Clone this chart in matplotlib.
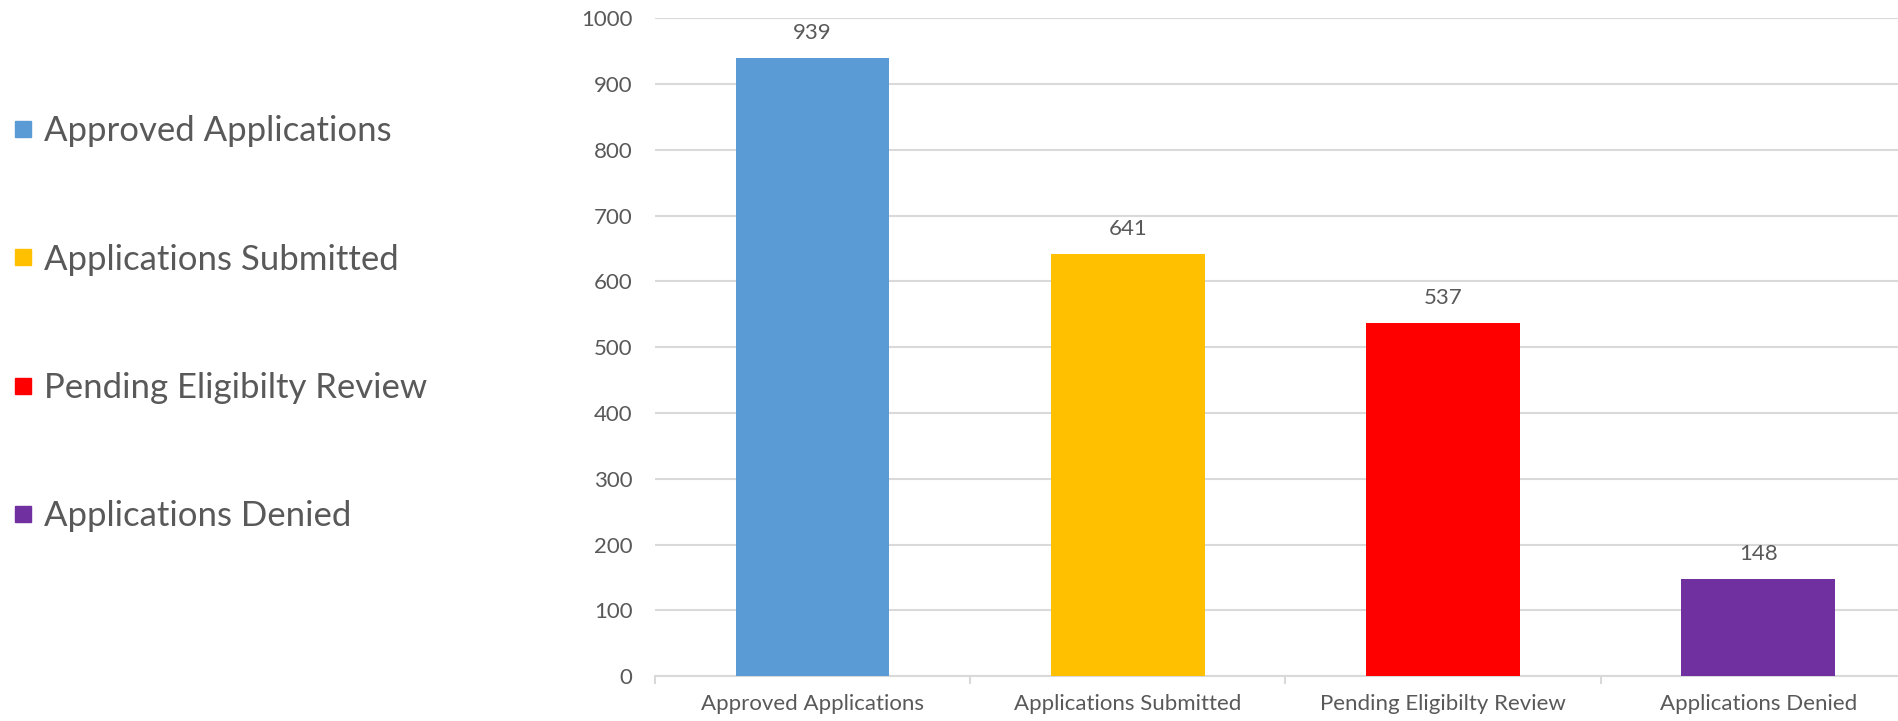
import matplotlib.pyplot as plt
from matplotlib.lines import Line2D
import numpy as np

# Application status counts
categories = ["Approved Applications", "Applications Submitted",
              "Pending Eligibilty Review", "Applications Denied"]
counts = [939, 641, 537, 148]
colors = ["#5B9BD5", "#FFC000", "#FF0000", "#7030A0"]
yticks = [0, 100, 200, 300, 400, 500, 600, 700, 800, 900, 1000]

plt.rcParams['font.family'] = ['Lato', 'DejaVu Sans']
text_color = "#595959"
grid_color = "#D9D9D9"

fig = plt.figure(figsize=(18.98, 7.21), dpi=100)
# plot area runs slightly past the right edge of the image, as in the original
ax = fig.add_axes([0.345, 0.062, 0.6645, 0.913])

x = np.arange(len(categories))
bars = ax.bar(x, counts, width=0.488, color=colors, zorder=3)

# value labels above bars
for b, v in zip(bars, counts):
    ax.annotate(str(v), (b.get_x() + b.get_width() / 2, v),
                xytext=(0, 11), textcoords="offset points",
                ha="center", va="bottom", fontsize=16, color=text_color)

ax.set_xlim(-0.5, len(categories) - 0.5)
ax.set_ylim(0, 1000)
ax.set_yticks(yticks)
ax.yaxis.grid(True, color=grid_color, linewidth=1.5, zorder=0)
ax.tick_params(axis="y", length=0, pad=16, labelsize=16, labelcolor=text_color)

# category labels centred, tick marks at category boundaries
ax.set_xticks(x)
ax.set_xticklabels(categories)
ax.tick_params(axis="x", length=0, pad=13, labelsize=16, labelcolor=text_color)
ax.set_xticks(np.arange(-0.5, len(categories), 1.0), minor=True)
ax.tick_params(axis="x", which="minor", length=6, width=1.5, color=grid_color)

for side in ["top", "right", "left"]:
    ax.spines[side].set_visible(False)
ax.spines["bottom"].set_color(grid_color)
ax.spines["bottom"].set_linewidth(1.5)

handles = [Line2D([], [], marker="s", linestyle="none", markersize=12,
                  markerfacecolor=c, markeredgecolor=c) for c in colors]
fig.legend(handles, categories, loc="center left", bbox_to_anchor=(0.0015, 0.551),
           frameon=False, fontsize=25, labelcolor=text_color,
           handlelength=0.55, handletextpad=0.33, labelspacing=2.77,
           borderaxespad=0.0, borderpad=0.3)

fig.savefig("out.png", dpi=100)
